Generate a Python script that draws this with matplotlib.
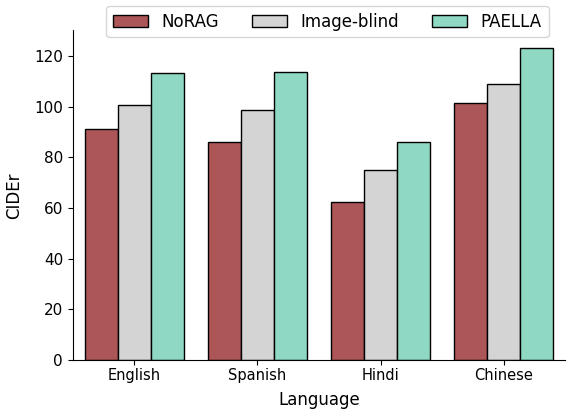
import numpy as np
import matplotlib.pyplot as plt

languages = ['English', 'Spanish', 'Hindi', 'Chinese']
methods = ['NoRAG', 'Image-blind', 'PAELLA']
norag = [91.2, 85.9, 62.5, 101.3]
image_blind = [100.8, 98.7, 74.9, 108.8]
paella = [113.4, 113.8, 86.0, 123.2]
colors = ['#AD5658', '#D4D4D4', '#8FD8C3']

fig = plt.figure(figsize=(5.78, 4.12), dpi=100)
ax = fig.add_axes([0.126, 0.126, 0.852, 0.80])

x = np.arange(len(languages))
width = 0.8 / 3
for i, (name, vals) in enumerate(zip(methods, [norag, image_blind, paella])):
    ax.bar(x + (i - 1) * width, vals, width, color=colors[i], edgecolor='black',
           linewidth=1.0, label=name)

ax.set_xlim(-0.5, 3.5)
ax.set_ylim(0, 130)
ax.set_xticks(x)
ax.set_xticklabels(languages, fontsize=10.5)
ax.set_yticks(np.arange(0, 121, 20))
ax.tick_params(axis='y', labelsize=11)
ax.tick_params(axis='x', pad=2)
ax.set_xlabel('Language', fontsize=12, labelpad=6)
ax.set_ylabel('CIDEr', fontsize=12, labelpad=8)
ax.spines['top'].set_visible(False)
ax.spines['right'].set_visible(False)

ax.legend(loc='upper center', bbox_to_anchor=(0.517, 1.10), ncol=3, fontsize=12,
          frameon=True, handlelength=2.1, columnspacing=2.0)

fig.savefig('out.png', dpi=100)
